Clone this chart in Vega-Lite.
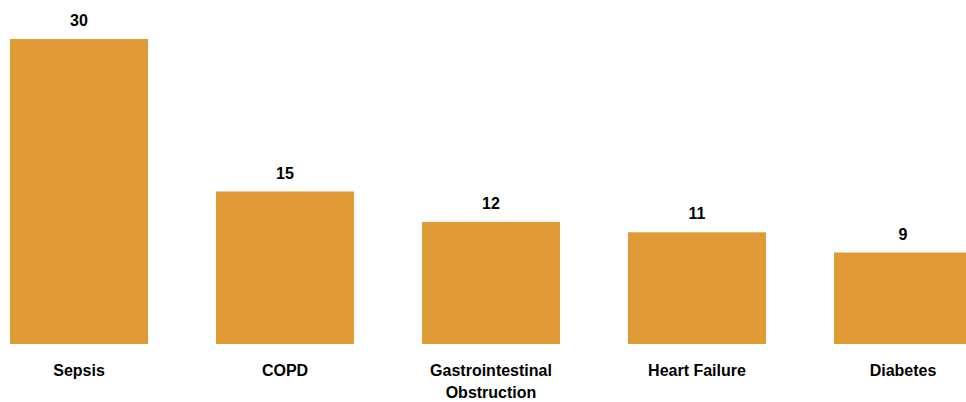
{
  "$schema": "https://vega.github.io/schema/vega-lite/v6.json",
  "width": 982,
  "height": 305,
  "autosize": {"type": "none"},
  "padding": {"left": 0, "top": 39, "right": 0, "bottom": 58},
  "background": "white",
  "data": {
    "values": [
      {"condition": "Sepsis", "count": 30},
      {"condition": "COPD", "count": 15},
      {"condition": "Gastrointestinal Obstruction", "count": 12},
      {"condition": "Heart Failure", "count": 11},
      {"condition": "Diabetes", "count": 9}
    ]
  },
  "config": {
    "view": {"stroke": null},
    "font": "Liberation Sans"
  },
  "encoding": {
    "x": {
      "field": "condition",
      "type": "nominal",
      "sort": null,
      "scale": {"paddingInner": 0.33, "paddingOuter": 0.0485},
      "axis": {
        "title": null,
        "domain": false,
        "ticks": false,
        "tickSize": 0,
        "labelAngle": 0,
        "labelPadding": 18,
        "labelBaseline": "top",
        "labelFont": "Liberation Sans",
        "labelFontSize": 16,
        "labelFontWeight": "bold",
        "labelColor": "#000000",
        "labelLineHeight": 22,
        "labelLimit": 300,
        "labelExpr": "datum.label == 'Gastrointestinal Obstruction' ? ['Gastrointestinal', 'Obstruction'] : datum.label"
      }
    },
    "y": {
      "field": "count",
      "type": "quantitative",
      "scale": {"domain": [0, 30], "nice": false},
      "axis": null
    }
  },
  "layer": [
    {"mark": {"type": "bar", "color": "#E09A36"}},
    {
      "mark": {
        "type": "text",
        "baseline": "alphabetic",
        "dy": -13,
        "font": "Liberation Sans",
        "fontSize": 16,
        "fontWeight": "bold",
        "color": "#000000"
      },
      "encoding": {"text": {"field": "count", "type": "quantitative"}}
    }
  ]
}
